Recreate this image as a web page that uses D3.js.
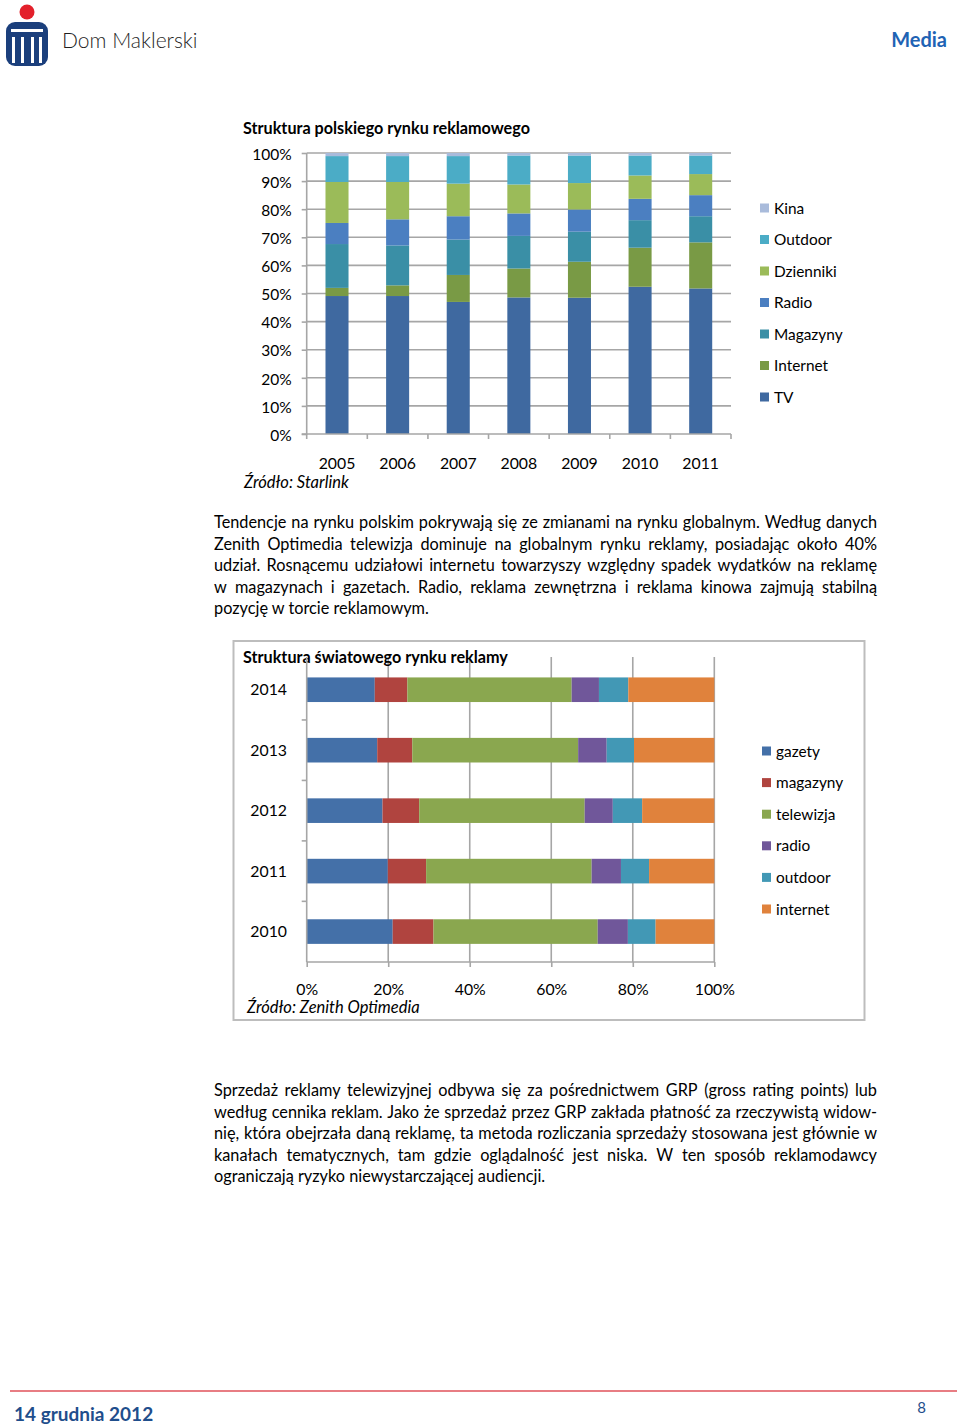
<!DOCTYPE html>
<html><head><meta charset="utf-8">
<script src="https://cdn.jsdelivr.net/npm/d3@7"></script>
<style>
html,body{margin:0;padding:0;background:#fff;}
svg{display:block;font-family:Lato,"Open Sans",sans-serif;}
</style></head>
<body>
<svg id="page" width="960" height="1426"></svg>
<script>
// ---------- Chart 1 data: Struktura polskiego rynku reklamowego ----------
const years1 = ['2005','2006','2007','2008','2009','2010','2011'];
const series1Names = ['TV','Internet','Magazyny','Radio','Dzienniki','Outdoor','Kina'];
const tv        = [49.1, 49.1, 47.0, 48.6, 48.5, 52.4, 51.8];
const internet  = [2.9, 3.8, 9.6, 10.3, 12.8, 13.9, 16.4];
const magazyny  = [15.6, 14.2, 12.6, 11.6, 10.7, 9.8, 9.3];
const radio     = [7.5, 9.3, 8.3, 8.0, 7.9, 7.6, 7.5];
const dzienniki = [14.6, 13.3, 11.6, 10.3, 9.4, 8.3, 7.5];
const outdoor   = [9.2, 9.2, 9.8, 10.3, 9.8, 7.1, 6.6];
const kina      = [1.1, 1.1, 1.1, 0.9, 0.9, 0.9, 0.9];
const yTicks1 = [0,10,20,30,40,50,60,70,80,90,100];

// ---------- Chart 2 data: Struktura światowego rynku reklamy ----------
const years2 = ['2014','2013','2012','2011','2010'];
const series2Names = ['gazety','magazyny','telewizja','radio','outdoor','internet'];
const gazety    = [16.7, 17.3, 18.6, 19.9, 21.1];
const magazyny2 = [8.0, 8.6, 9.0, 9.4, 10.0];
const telewizja = [40.3, 40.7, 40.6, 40.6, 40.3];
const radio2    = [6.7, 7.0, 6.9, 7.2, 7.4];
const outdoor2  = [7.2, 6.7, 7.2, 6.9, 6.8];
const internet2 = [21.1, 19.7, 17.7, 16.0, 14.4];
const xTicks2 = [0,20,40,60,80,100];

const colors1 = {TV:'#3f69a0',Internet:'#799a45',Magazyny:'#3a8fa6',Radio:'#4b7fc1',Dzienniki:'#9bbb59',Outdoor:'#4bacc6',Kina:'#a9bbdb'};
const colors2 = {gazety:'#4470a8',magazyny:'#b0443f',telewizja:'#8aa74f',radio:'#70579a',outdoor:'#4298b5',internet:'#e0823c'};

const para1 = [
 'Tendencje na rynku polskim pokrywają się ze zmianami na rynku globalnym. Według danych',
 'Zenith Optimedia telewizja dominuje na globalnym rynku reklamy, posiadając około 40%',
 'udział. Rosnącemu udziałowi internetu towarzyszy względny spadek wydatków na reklamę',
 'w magazynach i gazetach. Radio, reklama zewnętrzna i reklama kinowa zajmują stabilną',
 'pozycję w torcie reklamowym.'];
const para2 = [
 'Sprzedaż reklamy telewizyjnej odbywa się za pośrednictwem GRP (gross rating points) lub',
 'według cennika reklam. Jako że sprzedaż przez GRP zakłada płatność za rzeczywistą widow-',
 'nię, która obejrzała daną reklamę, ta metoda rozliczania sprzedaży stosowana jest głównie w',
 'kanałach tematycznych,  tam gdzie oglądalność jest niska. W ten sposób reklamodawcy',
 'ograniczają ryzyko niewystarczającej audiencji.'];

const svg = d3.select('#page');
const grid = '#a6a6a6';

// ---------- Header ----------
const logo = svg.append('g');
logo.append('circle').attr('cx',27).attr('cy',12).attr('r',7.5).attr('fill','#e3202b');
logo.append('rect').attr('x',6).attr('y',22).attr('width',42).attr('height',44).attr('rx',9).attr('fill','#1b3f7c');
logo.append('rect').attr('x',11).attr('y',29).attr('width',32).attr('height',3).attr('fill','#fff');
logo.append('rect').attr('x',12).attr('y',37).attr('width',3).attr('height',26).attr('fill','#fff');
logo.append('rect').attr('x',21).attr('y',37).attr('width',3).attr('height',26).attr('fill','#fff');
logo.append('rect').attr('x',31).attr('y',37).attr('width',3).attr('height',26).attr('fill','#fff');
logo.append('rect').attr('x',39).attr('y',37).attr('width',3).attr('height',26).attr('fill','#fff');
svg.append('text').attr('x',62).attr('y',48).attr('font-size',21).attr('font-weight',300)
  .attr('fill','#1f1f1f').text('Dom Maklerski');
svg.append('text').attr('x',947).attr('y',47).attr('text-anchor','end').attr('font-size',20)
  .attr('font-weight',700).attr('fill','#1f63b4').text('Media');

// ---------- Chart 1 ----------
const c1 = svg.append('g');
const x1 = d3.scaleBand().domain(years1).range([306.7,731]).paddingInner(0.62).paddingOuter(0.31);
const y1 = d3.scaleLinear().domain([0,100]).range([434,153]);
c1.append('text').attr('x',243).attr('y',134).attr('font-size',16.2).attr('font-weight',700)
  .attr('fill','#000').text('Struktura polskiego rynku reklamowego');
// gridlines
c1.append('g').selectAll('line').data(yTicks1.filter(d=>d>0)).join('line')
  .attr('x1',306.7).attr('x2',731).attr('y1',d=>y1(d)).attr('y2',d=>y1(d))
  .attr('stroke',grid).attr('stroke-width',1.6);
// stacked bars
const rows1 = years1.map((yr,i)=>({year:yr,TV:tv[i],Internet:internet[i],Magazyny:magazyny[i],Radio:radio[i],Dzienniki:dzienniki[i],Outdoor:outdoor[i],Kina:kina[i]}));
const stack1 = d3.stack().keys(series1Names)(rows1);
c1.append('g').selectAll('g').data(stack1).join('g').attr('fill',d=>colors1[d.key])
  .selectAll('rect').data(d=>d).join('rect')
  .attr('x',d=>x1(d.data.year)).attr('width',x1.bandwidth())
  .attr('y',d=>y1(d[1])).attr('height',d=>y1(d[0])-y1(d[1]));
// left axis
const ax1 = d3.axisLeft(y1).tickValues(yTicks1).tickFormat(d=>d+'%').tickSize(5).tickPadding(10);
const gax1 = c1.append('g').attr('transform','translate(306.7,0)').call(ax1);
gax1.select('.domain').attr('stroke',grid).attr('stroke-width',1.6).attr('d','M-5,434H0V153');
gax1.selectAll('.tick line').attr('stroke',grid).attr('stroke-width',1.6);
gax1.selectAll('.tick text').attr('font-size',15.5).attr('fill','#000').attr('font-family','Lato').attr('dy','0.4em');
// bottom axis
c1.append('line').attr('x1',306.7).attr('x2',731).attr('y1',434).attr('y2',434).attr('stroke',grid).attr('stroke-width',1.6);
const bounds1 = years1.map(d=>x1(d)-x1.step()*x1.paddingInner()/2).concat([731]);
bounds1[0]=306.7;
c1.append('g').selectAll('line').data(bounds1).join('line')
  .attr('x1',d=>d).attr('x2',d=>d).attr('y1',434).attr('y2',439).attr('stroke',grid).attr('stroke-width',1.6);
c1.append('g').selectAll('text').data(years1).join('text')
  .attr('x',d=>x1(d)+x1.bandwidth()/2).attr('y',469).attr('text-anchor','middle')
  .attr('font-size',15.8).attr('fill','#000').text(d=>d);
c1.append('text').attr('x',244).attr('y',488).attr('font-size',16.5).attr('font-style','italic')
  .attr('fill','#000').text('Źródło: Starlink');
// legend
const leg1 = c1.append('g').selectAll('g').data(series1Names.slice().reverse()).join('g')
  .attr('transform',(d,i)=>`translate(760,${208+i*31.5})`);
leg1.append('rect').attr('x',0).attr('y',-4.5).attr('width',9).attr('height',9).attr('fill',d=>colors1[d]);
leg1.append('text').attr('x',14).attr('y',5.5).attr('font-size',15.4).attr('fill','#000').text(d=>d);

// ---------- Paragraph helper ----------
function paragraph(lines, top, lh){
  const g = svg.append('g').attr('font-size',16.3).attr('fill','#000');
  lines.forEach((ln,li)=>{
    const y = top + li*lh;
    const last = li===lines.length-1;
    if(last){ g.append('text').attr('x',214).attr('y',y).text(ln); return; }
    const words = ln.split(/\s+/).filter(w=>w.length);
    const nodes = words.map(w=>g.append('text').attr('y',y).text(w));
    const widths = nodes.map(n=>n.node().getComputedTextLength());
    const total = d3.sum(widths);
    const gap = (877-214-total)/(words.length-1);
    let xx = 214;
    nodes.forEach((n,i)=>{ n.attr('x',xx); xx += widths[i]+gap; });
  });
}
paragraph(para1, 528, 21.6);

// ---------- Chart 2 ----------
const c2 = svg.append('g');
c2.append('rect').attr('x',233.5).attr('y',641).attr('width',631).attr('height',379)
  .attr('fill','none').attr('stroke','#bdbdbd').attr('stroke-width',2);
const x2 = d3.scaleLinear().domain([0,100]).range([306.7,714.3]);
const y2 = d3.scaleBand().domain(years2).range([659.5,961.8]).paddingInner(0.593).paddingOuter(0.2965);
// vertical gridlines
c2.append('g').selectAll('line').data(xTicks2.filter(d=>d>0)).join('line')
  .attr('x1',d=>x2(d)).attr('x2',d=>x2(d)).attr('y1',657).attr('y2',962)
  .attr('stroke',grid).attr('stroke-width',1.6);
c2.append('text').attr('x',243).attr('y',663).attr('font-size',16.2).attr('font-weight',700)
  .attr('fill','#000').text('Struktura światowego rynku reklamy');
const rows2 = years2.map((yr,i)=>({year:yr,gazety:gazety[i],magazyny:magazyny2[i],telewizja:telewizja[i],radio:radio2[i],outdoor:outdoor2[i],internet:internet2[i]}));
const stack2 = d3.stack().keys(series2Names)(rows2);
c2.append('g').selectAll('g').data(stack2).join('g').attr('fill',d=>colors2[d.key])
  .selectAll('rect').data(d=>d).join('rect')
  .attr('y',d=>y2(d.data.year)).attr('height',y2.bandwidth())
  .attr('x',d=>x2(d[0])).attr('width',d=>x2(d[1])-x2(d[0]));
// left axis (category)
c2.append('line').attr('x1',306.7).attr('x2',306.7).attr('y1',657).attr('y2',962).attr('stroke',grid).attr('stroke-width',1.6);
const bounds2 = years2.map(d=>y2(d)-y2.step()*y2.paddingInner()/2).slice(1);
c2.append('g').selectAll('line').data(bounds2).join('line')
  .attr('x1',301.7).attr('x2',306.7).attr('y1',d=>d).attr('y2',d=>d).attr('stroke',grid).attr('stroke-width',1.6);
c2.append('g').selectAll('text').data(years2).join('text')
  .attr('x',287).attr('y',d=>y2(d)+y2.bandwidth()/2+5.5).attr('text-anchor','end')
  .attr('font-size',15.8).attr('fill','#000').text(d=>d);
// bottom axis
const ax2 = d3.axisBottom(x2).tickValues(xTicks2).tickFormat(d=>d+'%').tickSize(5).tickPadding(17);
const gax2 = c2.append('g').attr('transform','translate(0,962)').call(ax2);
gax2.select('.domain').attr('stroke',grid).attr('stroke-width',1.6).attr('d','M306.7,0H714.3');
gax2.selectAll('.tick line').attr('stroke',grid).attr('stroke-width',1.6);
gax2.selectAll('.tick text').attr('font-size',15.8).attr('fill','#000').attr('font-family','Lato');
c2.append('text').attr('x',247).attr('y',1013).attr('font-size',16.5).attr('font-style','italic')
  .attr('fill','#000').text('Źródło: Zenith Optimedia');
// legend
const leg2 = c2.append('g').selectAll('g').data(series2Names).join('g')
  .attr('transform',(d,i)=>`translate(762,${751+i*31.6})`);
leg2.append('rect').attr('x',0).attr('y',-4.5).attr('width',9).attr('height',9).attr('fill',d=>colors2[d]);
leg2.append('text').attr('x',14).attr('y',5.5).attr('font-size',15.4).attr('fill','#000').text(d=>d);

paragraph(para2, 1096, 21.6);

// ---------- Footer ----------
svg.append('line').attr('x1',10).attr('x2',957).attr('y1',1391).attr('y2',1391).attr('stroke','#e0525a').attr('stroke-width',1.5);
svg.append('text').attr('x',14).attr('y',1421).attr('font-size',19).attr('font-weight',700)
  .attr('fill','#1f4e8c').text('14 grudnia 2012');
svg.append('text').attr('x',926).attr('y',1413).attr('text-anchor','end').attr('font-size',15)
  .attr('fill','#1f4e8c').text('8');
</script>
</body></html>
